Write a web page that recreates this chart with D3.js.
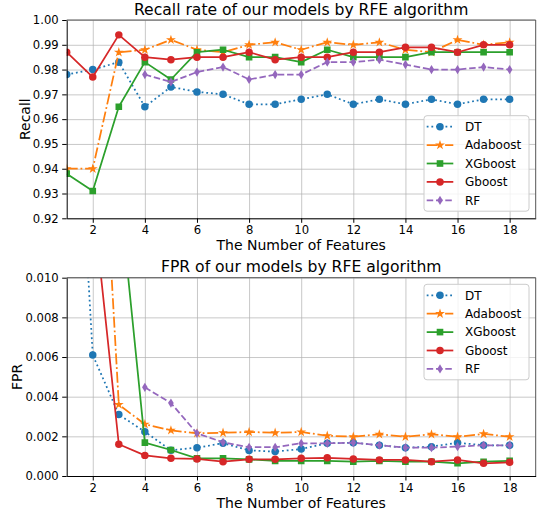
<!DOCTYPE html>
<html>
<head>
<meta charset="utf-8">
<script src="https://cdn.jsdelivr.net/npm/d3@7/dist/d3.min.js"></script>
<style>
  body { margin: 0; background: #fff; }
  text { font-family: "DejaVu Sans", sans-serif; fill: #000; }
</style>
</head>
<body>
<div id="chart"></div>
<script>
// number of features on the x axis
var features = d3.range(1, 19);
var tickX = [2, 4, 6, 8, 10, 12, 14, 16, 18];
var tickRecall = [0.92, 0.93, 0.94, 0.95, 0.96, 0.97, 0.98, 0.99, 1.00];
var tickFpr = [0.000, 0.002, 0.004, 0.006, 0.008, 0.010];
var modelNames = ["DT", "Adaboost", "XGboost", "Gboost", "RF"];

// recall values per model (null = not drawn)
var recallDT    = [0.978, 0.980, 0.983, 0.965, 0.973, 0.971, 0.970, 0.966, 0.966, 0.968, 0.970, 0.966, 0.968, 0.966, 0.968, 0.966, 0.968, 0.968];
var recallAda   = [0.940, 0.940, 0.987, 0.988, 0.992, 0.988, 0.987, 0.990, 0.991, 0.988, 0.991, 0.990, 0.991, 0.988, 0.987, 0.992, 0.990, 0.991];
var recallXG    = [0.938, 0.931, 0.965, 0.983, 0.976, 0.987, 0.988, 0.985, 0.985, 0.983, 0.988, 0.985, 0.985, 0.985, 0.987, 0.987, 0.987, 0.987];
var recallGB    = [0.987, 0.977, 0.994, 0.985, 0.984, 0.985, 0.985, 0.987, 0.984, 0.985, 0.985, 0.987, 0.987, 0.989, 0.989, 0.987, 0.990, 0.990];
var recallRF    = [null, null, null, 0.978, 0.975, 0.979, 0.981, 0.976, 0.978, 0.978, 0.983, 0.983, 0.984, 0.982, 0.980, 0.980, 0.981, 0.980];

// false positive rate per model
var fprDT  = [0.0290, 0.0061, 0.0031, 0.00223, 0.0013, 0.00143, 0.00165, 0.00129, 0.00123, 0.00136, 0.00165, 0.00168, 0.00155, 0.00143, 0.00148, 0.00168, 0.00155, 0.00155];
var fprAda = [0.0300, 0.0270, 0.0036, 0.00261, 0.0023, 0.00215, 0.00218, 0.00222, 0.00218, 0.00222, 0.00203, 0.00198, 0.00210, 0.00198, 0.00210, 0.00198, 0.00212, 0.00198];
var fprXG  = [0.0350, 0.0350, 0.0147, 0.00168, 0.00131, 0.00089, 0.00089, 0.00084, 0.00076, 0.00076, 0.00076, 0.00072, 0.00076, 0.00072, 0.00072, 0.00064, 0.00072, 0.00076];
var fprGB  = [0.0130, 0.0140, 0.0016, 0.00104, 0.00089, 0.00086, 0.00072, 0.00084, 0.00084, 0.00089, 0.00092, 0.00086, 0.00081, 0.00081, 0.00072, 0.00081, 0.00064, 0.00069];
var fprRF  = [null, null, null, 0.00447, 0.00368, 0.00215, 0.0017, 0.00145, 0.00145, 0.00165, 0.00165, 0.00168, 0.00155, 0.00143, 0.00143, 0.00148, 0.00155, 0.00155];

var colors = ["#1f77b4", "#ff7f0e", "#2ca02c", "#d62728", "#9467bd"];
var dashes = ["1.8,2.9", "11,2.8,1.8,2.8", null, null, "6.5,2.8"];
var shapes = ["circle", "star", "square", "circle", "diamond"];

var W = 540, H = 518;
var svg = d3.select("#chart").append("svg")
  .attr("width", W).attr("height", H);

function markerPath(shape) {
  if (shape == "circle") return d3.symbol(d3.symbolCircle, 44)();
  if (shape == "square") return d3.symbol(d3.symbolSquare, 44)();
  if (shape == "star") return d3.symbol(d3.symbolStar, 30)();
  // thin diamond
  return "M0,-4.6L2.8,0L0,4.6L-2.8,0Z";
}

function drawPanel(opt) {
  var left = 66.7, right = 535.7;
  var x = d3.scaleLinear().domain([1, 19]).range([left, right]);
  var y = d3.scaleLinear().domain(opt.ydomain).range([opt.bottom, opt.top]);
  var g = svg.append("g");

  var clipId = "clip" + opt.id;
  svg.append("clipPath").attr("id", clipId)
    .append("rect").attr("x", left).attr("y", opt.top)
    .attr("width", right - left).attr("height", opt.bottom - opt.top);

  // grid
  g.append("g").attr("transform", "translate(0," + opt.bottom + ")")
    .call(d3.axisBottom(x).tickValues(tickX).tickSize(-(opt.bottom - opt.top)).tickFormat(""))
    .call(function(s) { s.select(".domain").remove(); })
    .selectAll("line").attr("stroke", "#b0b0b0").attr("stroke-width", 1).attr("opacity", 0.7);
  g.append("g").attr("transform", "translate(" + left + ",0)")
    .call(d3.axisLeft(y).tickValues(opt.yticks).tickSize(-(right - left)).tickFormat(""))
    .call(function(s) { s.select(".domain").remove(); })
    .selectAll("line").attr("stroke", "#b0b0b0").attr("stroke-width", 1).attr("opacity", 0.7);

  // lines + markers
  var plot = g.append("g").attr("clip-path", "url(#" + clipId + ")");
  opt.series.forEach(function(vals, i) {
    var pts = features.map(function(f, k) { return {x: f, y: vals[k]}; });
    var line = d3.line()
      .defined(function(d) { return d.y != null; })
      .x(function(d) { return x(d.x); })
      .y(function(d) { return y(d.y); });
    plot.append("path")
      .attr("fill", "none")
      .attr("stroke", colors[i])
      .attr("stroke-width", 1.75)
      .attr("stroke-dasharray", dashes[i])
      .attr("stroke-linejoin", "round")
      .attr("d", line(pts));
    plot.selectAll(".m" + i)
      .data(pts.filter(function(d) { return d.y != null; }))
      .enter().append("path")
      .attr("d", markerPath(shapes[i]))
      .attr("fill", colors[i])
      .attr("transform", function(d) { return "translate(" + x(d.x) + "," + y(d.y) + ")"; });
  });

  // axes
  var ax = g.append("g").attr("transform", "translate(0," + opt.bottom + ")")
    .call(d3.axisBottom(x).tickValues(tickX).tickSize(4.5).tickPadding(3).tickSizeOuter(0));
  var ay = g.append("g").attr("transform", "translate(" + left + ",0)")
    .call(d3.axisLeft(y).tickValues(opt.yticks).tickSize(4.5).tickPadding(3.5).tickSizeOuter(0).tickFormat(opt.fmt));
  [ax, ay].forEach(function(a) {
    a.selectAll("text").style("font-family", "DejaVu Sans").style("font-size", "11.6px").attr("fill", "#000");
    a.selectAll("line").attr("stroke", "#000").attr("stroke-width", 1);
    a.select(".domain").attr("stroke", "#000").attr("stroke-width", 1);
  });
  g.append("line").attr("x1", left).attr("x2", right).attr("y1", opt.top).attr("y2", opt.top)
    .attr("stroke", "#555").attr("stroke-width", 1);
  g.append("line").attr("x1", right).attr("x2", right).attr("y1", opt.top).attr("y2", opt.bottom)
    .attr("stroke", "#555").attr("stroke-width", 1);

  // title + labels
  g.append("text").attr("x", (left + right) / 2).attr("y", opt.top - 5.5)
    .attr("text-anchor", "middle").style("font-size", "15.6px").text(opt.title);
  g.append("text").attr("x", (left + right) / 2).attr("y", opt.bottom + 32)
    .attr("text-anchor", "middle").style("font-size", "14px").text("The Number of Features");
  g.append("text")
    .attr("transform", "translate(" + opt.ylabelX + "," + (opt.top + opt.bottom) / 2 + ") rotate(-90)")
    .attr("text-anchor", "middle").style("font-size", "14px").text(opt.ylabel);

  // legend
  var lg = g.append("g").attr("transform", "translate(424," + opt.legendY + ")");
  lg.append("rect").attr("width", 105).attr("height", 95.5).attr("rx", 3)
    .attr("fill", "#fff").attr("fill-opacity", 0.8).attr("stroke", "#ccc").attr("stroke-width", 1);
  modelNames.forEach(function(name, i) {
    var cy = 11 + i * 18.4;
    lg.append("line").attr("x1", 2.7).attr("x2", 29.3).attr("y1", cy).attr("y2", cy)
      .attr("stroke", colors[i]).attr("stroke-width", 1.75).attr("stroke-dasharray", dashes[i]);
    lg.append("path").attr("d", markerPath(shapes[i])).attr("fill", colors[i])
      .attr("transform", "translate(16," + cy + ")");
    lg.append("text").attr("x", 41).attr("y", cy + 4.4).style("font-size", "12px").text(name);
  });
}

drawPanel({
  id: "recall", top: 20, bottom: 218.3, ydomain: [0.92, 1.00], yticks: tickRecall,
  fmt: d3.format(".2f"), title: "Recall rate of our models by RFE algorithm",
  ylabel: "Recall", ylabelX: 30, legendY: 115.7,
  series: [recallDT, recallAda, recallXG, recallGB, recallRF]
});
drawPanel({
  id: "fpr", top: 277.7, bottom: 476, ydomain: [0, 0.010], yticks: tickFpr,
  fmt: d3.format(".3f"), title: "FPR of our models by RFE algorithm",
  ylabel: "FPR", ylabelX: 22, legendY: 284.3,
  series: [fprDT, fprAda, fprXG, fprGB, fprRF]
});
</script>
</body>
</html>
